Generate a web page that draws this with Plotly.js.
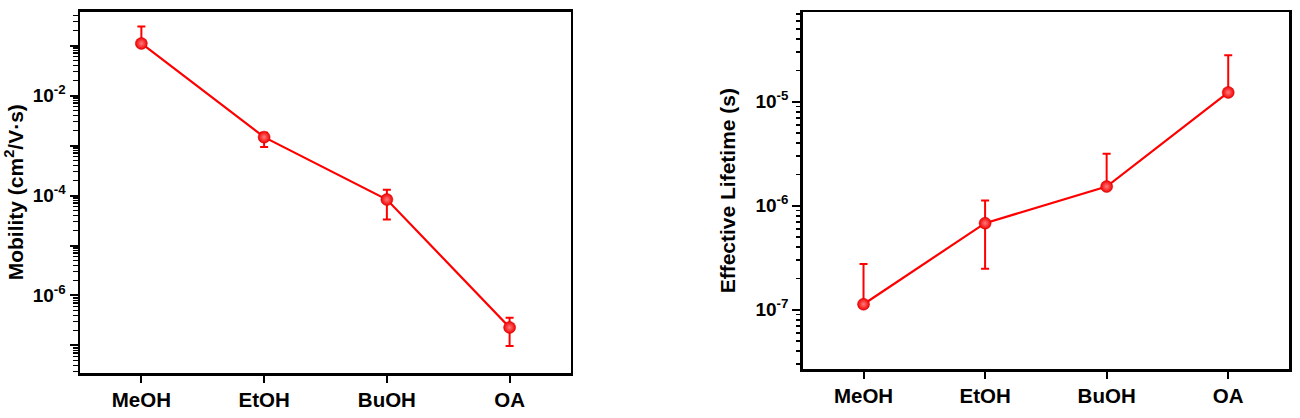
<!DOCTYPE html>
<html>
<head>
<meta charset="utf-8">
<script src="https://cdn.plot.ly/plotly-3.0.1.min.js"></script>
<style>html,body{margin:0;padding:0;background:#fff;}#chart{width:1300px;height:418px;}</style>
</head>
<body>
<div id="chart"></div>
<script>
// ---- data ----
const solvents = ["MeOH", "EtOH", "BuOH", "OA"];
const mobility = [0.11, 1.47e-3, 8.3e-5, 2.3e-7];
const mobilityUpper = [0.24, 1.8e-3, 1.3e-4, 3.6e-7];
const mobilityLower = [0.11, 9.3e-4, 3.3e-5, 9.8e-8];
const lifetime = [1.13e-7, 6.8e-7, 1.53e-6, 1.23e-5];
const lifetimeUpper = [2.76e-7, 1.12e-6, 3.16e-6, 2.8e-5];
const lifetimeLower = [1.13e-7, 2.48e-7, 1.53e-6, 1.23e-5];
const mobTickVals = [1e-7, 1e-6, 1e-5, 1e-4, 1e-3, 1e-2, 1e-1];
const mobTickText = ["", "10<sup>-6</sup>", "", "10<sup>-4</sup>", "", "10<sup>-2</sup>", ""];
const lifeTickVals = [1e-7, 1e-6, 1e-5];
const lifeTickText = ["10<sup>-7</sup>", "10<sup>-6</sup>", "10<sup>-5</sup>"];

const RED = "#ff0000";
const FONT = "Liberation Sans, Arial, sans-serif";

function series(y, up, lo, xa, ya) {
  return {
    x: solvents, y: y, xaxis: xa, yaxis: ya,
    type: "scatter", mode: "lines+markers",
    line: {color: RED, width: 2.2},
    marker: {size: 12, color: "#f20000",
             gradient: {type: "radial", color: "#ff7a7a"},
             line: {color: "#d00000", width: 0.5}},
    error_y: {type: "data", symmetric: false,
              array: up.map((u, i) => u - y[i]),
              arrayminus: lo.map((l, i) => y[i] - l),
              color: RED, thickness: 2, width: 4},
    showlegend: false, hoverinfo: "skip"
  };
}

const data = [
  series(mobility, mobilityUpper, mobilityLower, "x", "y"),
  series(lifetime, lifetimeUpper, lifetimeLower, "x2", "y2")
];

const tickFont = {family: FONT, size: 20.5, color: "#000", weight: 700};
const yTickFont = {family: FONT, size: 19, color: "#000", weight: 700};
const titleFont = {family: FONT, size: 21, color: "#000", weight: 700};

function xAxis(domain, anchor) {
  return {
    domain: domain, anchor: anchor, type: "category",
    range: [-0.5, 3.5], showgrid: false, zeroline: false,
    showline: true, linecolor: "#000", linewidth: 2.5, mirror: true,
    ticks: "outside", ticklen: 7, tickwidth: 2, tickcolor: "#000",
    tickfont: tickFont
  };
}
function topAxis(overlay, anchor) {
  return {
    overlaying: overlay, anchor: anchor, side: "top",
    type: "linear", range: [-0.5, 3.5],
    tickmode: "array", tickvals: [0, 1, 2, 3],
    showticklabels: false, showgrid: false, zeroline: false, showline: false,
    ticks: "inside", ticklen: 7, tickwidth: 2, tickcolor: "#000"
  };
}
function yAxis(domain, anchor, range, tv, tt, title, standoff) {
  return {
    domain: domain, anchor: anchor, type: "log", range: range,
    showgrid: false, zeroline: false,
    showline: true, linecolor: "#000", linewidth: 2.5, mirror: true,
    tickmode: "array", tickvals: tv, ticktext: tt,
    ticks: "outside", ticklen: 8, tickwidth: 2, tickcolor: "#000",
    minor: {ticks: "outside", ticklen: 4.5, tickwidth: 1.5, tickcolor: "#000", dtick: "D1", showgrid: false},
    tickfont: yTickFont,
    title: {text: title, font: titleFont, standoff: standoff}
  };
}

const layout = {
  width: 1300, height: 418,
  margin: {l: 80, r: 11, t: 11, b: 45},
  paper_bgcolor: "#fff", plot_bgcolor: "#fff",
  font: {family: FONT, color: "#000"},
  xaxis: xAxis([0, 0.4061], "y"),
  yaxis: yAxis([0, 0.9986], "x", [-7.55, -0.32], mobTickVals, mobTickText, "Mobility (cm<sup>2</sup>/V·s)", 4),
  xaxis2: xAxis([0.5978, 1.0], "y2"),
  yaxis2: yAxis([0.011, 0.9964], "x2", [-7.57, -4.14], lifeTickVals, lifeTickText, "Effective Lifetime (s)", 14),
  xaxis3: topAxis("x", "y"),
  xaxis4: topAxis("x2", "y2")
};

Plotly.newPlot("chart", data, layout, {displayModeBar: false, staticPlot: true});
</script>
</body>
</html>
